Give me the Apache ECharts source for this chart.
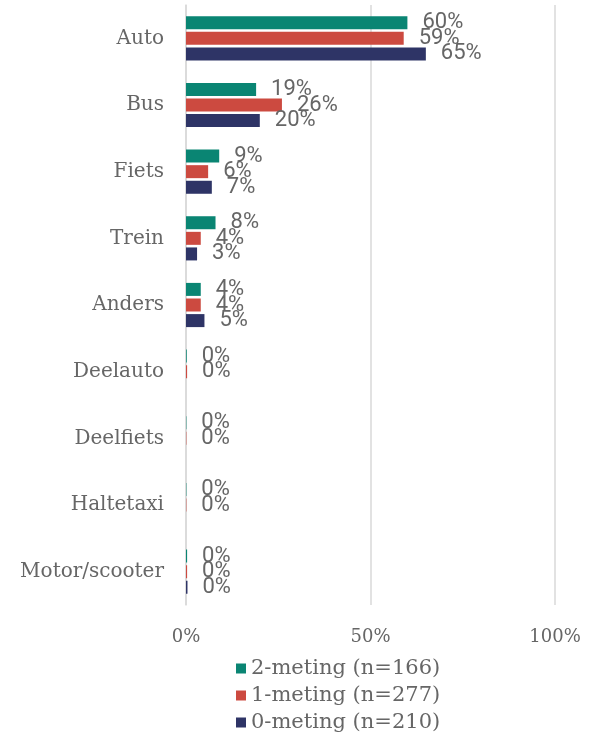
<!DOCTYPE html>
<html><head><meta charset="utf-8">
<script src="https://cdn.jsdelivr.net/npm/echarts@6/dist/echarts.min.js"></script>
<style>html,body{margin:0;padding:0;background:#fff}#c{width:601px;height:742px}</style>
</head><body><div id="c"></div>
<script>
const categories = ['Auto','Bus','Fiets','Trein','Anders','Deelauto','Deelfiets','Haltetaxi','Motor/scooter'];
const seriesNames = ['2-meting (n=166)','1-meting (n=277)','0-meting (n=210)'];
const meting2 = [60,19,9,8,4,0.2,0.1,0.1,0.3];
const meting1 = [59,26,6,4,4,0.3,0.1,0.1,0.3];
const meting0 = [65,20,7,3,5,null,null,null,0.4];
const xTicks = [0,50,100];
const colors = ['#0a8573','#cc4a40','#2e3466'];

const chart = echarts.init(document.getElementById('c'));
const mk = (name, data, color) => ({
  name, type:'bar', data, barWidth:13, barGap:'20%',
  itemStyle:{color},
  label:{show:true, position:'right', distance:15, color:'#666666',
    fontFamily:'Roboto', fontSize:22, offset:[0,1],
    formatter:p => p.value==null ? '' : Math.round(p.value)+'%'},
  labelLayout:{hideOverlap:false}
});
chart.setOption({
  animation:false,
  grid:{left:186,right:46,top:5,bottom:137,containLabel:false},
  legend:{orient:'vertical', left:231, top:653, itemWidth:10, itemHeight:10, itemGap:6,
    icon:'rect', data:seriesNames,
    textStyle:{fontFamily:'DejaVu Serif', fontSize:21, color:'#666666'}},
  xAxis:{type:'value', min:xTicks[0], max:xTicks[2], interval:50,
    axisLine:{show:false}, axisTick:{show:false},
    splitLine:{lineStyle:{color:'#d9d9d9', width:1.5}},
    axisLabel:{formatter:v=>v+'%', color:'#666666', fontFamily:'DejaVu Serif', fontSize:18, margin:23}},
  yAxis:{type:'category', data:categories, inverse:true,
    axisLine:{lineStyle:{color:'#d9d9d9', width:1.5}}, axisTick:{show:false},
    axisLabel:{color:'#666666', fontFamily:'DejaVu Serif', fontSize:20, margin:22}},
  series:[mk(seriesNames[0],meting2,colors[0]), mk(seriesNames[1],meting1,colors[1]), mk(seriesNames[2],meting0,colors[2])]
});
</script></body></html>
